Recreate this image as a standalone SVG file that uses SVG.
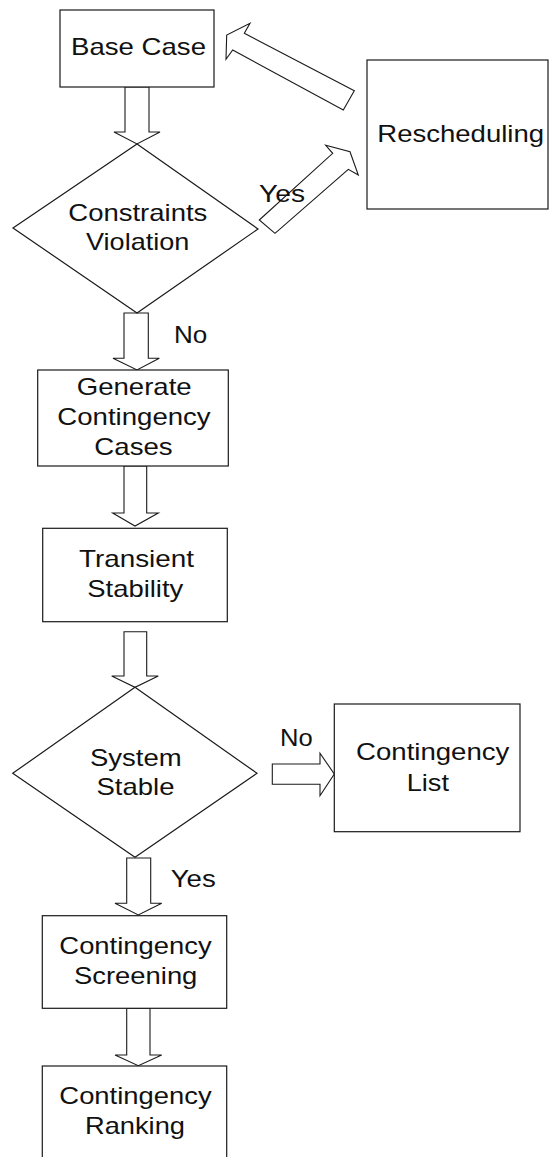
<svg xmlns="http://www.w3.org/2000/svg" width="550" height="1157" viewBox="0 0 550 1157">
<style>
.s{fill:#fff;stroke:#1a1a1a;stroke-width:1.2}
.c{fill:#fff;stroke:#1a1a1a;stroke-width:1.1;stroke-linejoin:miter}
text{font-family:"Liberation Sans",Arial,Helvetica,sans-serif;font-size:24px;fill:#111;text-anchor:middle}
</style>
<rect width="550" height="1157" fill="#fff"/>
<g id="connectors">
<polygon class="c" points="125,87 149,87 149,132 160,132 137,144 114,132 125,132"/>
<polygon class="c" points="124,313 148.3,313 148.3,358.3 159.3,358.3 137,370 113,358.3 124,358.3"/>
<polygon class="c" points="124,466 146.7,466 146.7,513 158.3,513 135,526 112.7,513 124,513"/>
<polygon class="c" points="124,631.7 146.7,631.7 146.7,676 158.3,676 135,687.3 111.7,676 124,676"/>
<polygon class="c" points="272.3,764 320,764 320,753.3 334.3,774 320,795.7 320,784.3 272.3,784.3"/>
<polygon class="c" points="126.7,858 150.7,858 150.7,903.3 161.7,903.3 138.3,915 115,903.3 126.7,903.3"/>
<polygon class="c" points="126.7,1008.3 150,1008.3 150,1055 161.7,1055 138.3,1065.7 115,1055 126.7,1055"/>
<polygon class="c" points="244.3,33.3 354.3,90.7 343.3,110 232.7,50 226,59.3 226.7,35 250,23.3"/>
<polygon class="c" points="259.3,220 332.7,153.3 325.7,145.3 350,151.7 358.3,175 348.3,169.3 275,233.3"/>
<text x="282" y="201.7" textLength="46" lengthAdjust="spacingAndGlyphs">Yes</text>
<text x="190.7" y="342.7" textLength="33.3" lengthAdjust="spacingAndGlyphs">No</text>
<text x="296.3" y="745.7" textLength="32.7" lengthAdjust="spacingAndGlyphs">No</text>
<text x="193.2" y="887.3" textLength="45" lengthAdjust="spacingAndGlyphs">Yes</text>
</g>
<g id="base-case">
<rect class="s" x="60" y="10" width="154" height="77"/>
<text x="138.5" y="55" textLength="135" lengthAdjust="spacingAndGlyphs">Base Case</text>
</g>
<g id="rescheduling">
<rect class="s" x="367" y="60" width="181" height="149"/>
<text x="460.7" y="141.7" textLength="166.7" lengthAdjust="spacingAndGlyphs">Rescheduling</text>
</g>
<g id="constraints-violation">
<polygon class="s" points="137,144 258,229 137,313 13,228"/>
<text x="137.8" y="220.7" textLength="139" lengthAdjust="spacingAndGlyphs">Constraints</text>
<text x="137.7" y="250" textLength="103.3" lengthAdjust="spacingAndGlyphs">Violation</text>
</g>
<g id="generate-contingency-cases">
<rect class="s" x="37.7" y="370" width="190.6" height="96"/>
<text x="134.2" y="395" textLength="115" lengthAdjust="spacingAndGlyphs">Generate</text>
<text x="134" y="425" textLength="153.3" lengthAdjust="spacingAndGlyphs">Contingency</text>
<text x="133.5" y="455" textLength="78.3" lengthAdjust="spacingAndGlyphs">Cases</text>
</g>
<g id="transient-stability">
<rect class="s" x="42.7" y="528.3" width="184.6" height="93.4"/>
<text x="136.5" y="567.3" textLength="115" lengthAdjust="spacingAndGlyphs">Transient</text>
<text x="135.3" y="597.3" textLength="96" lengthAdjust="spacingAndGlyphs">Stability</text>
</g>
<g id="system-stable">
<polygon class="s" points="135,687.3 257,773.3 135,857.3 12.7,773.3"/>
<text x="135.8" y="766" textLength="91.7" lengthAdjust="spacingAndGlyphs">System</text>
<text x="135.5" y="795" textLength="78" lengthAdjust="spacingAndGlyphs">Stable</text>
</g>
<g id="contingency-list">
<rect class="s" x="334.3" y="704" width="185.7" height="127.7"/>
<text x="432.7" y="760" textLength="153.3" lengthAdjust="spacingAndGlyphs">Contingency</text>
<text x="427.8" y="790.7" textLength="42.3" lengthAdjust="spacingAndGlyphs">List</text>
</g>
<g id="contingency-screening">
<rect class="s" x="42.3" y="915.7" width="184.4" height="92.6"/>
<text x="135.5" y="954" textLength="152.3" lengthAdjust="spacingAndGlyphs">Contingency</text>
<text x="135.7" y="984" textLength="123.3" lengthAdjust="spacingAndGlyphs">Screening</text>
</g>
<g id="contingency-ranking">
<rect class="s" x="42.3" y="1066" width="184.4" height="100"/>
<text x="135.5" y="1104" textLength="152.3" lengthAdjust="spacingAndGlyphs">Contingency</text>
<text x="135" y="1134" textLength="100" lengthAdjust="spacingAndGlyphs">Ranking</text>
</g>
</svg>
